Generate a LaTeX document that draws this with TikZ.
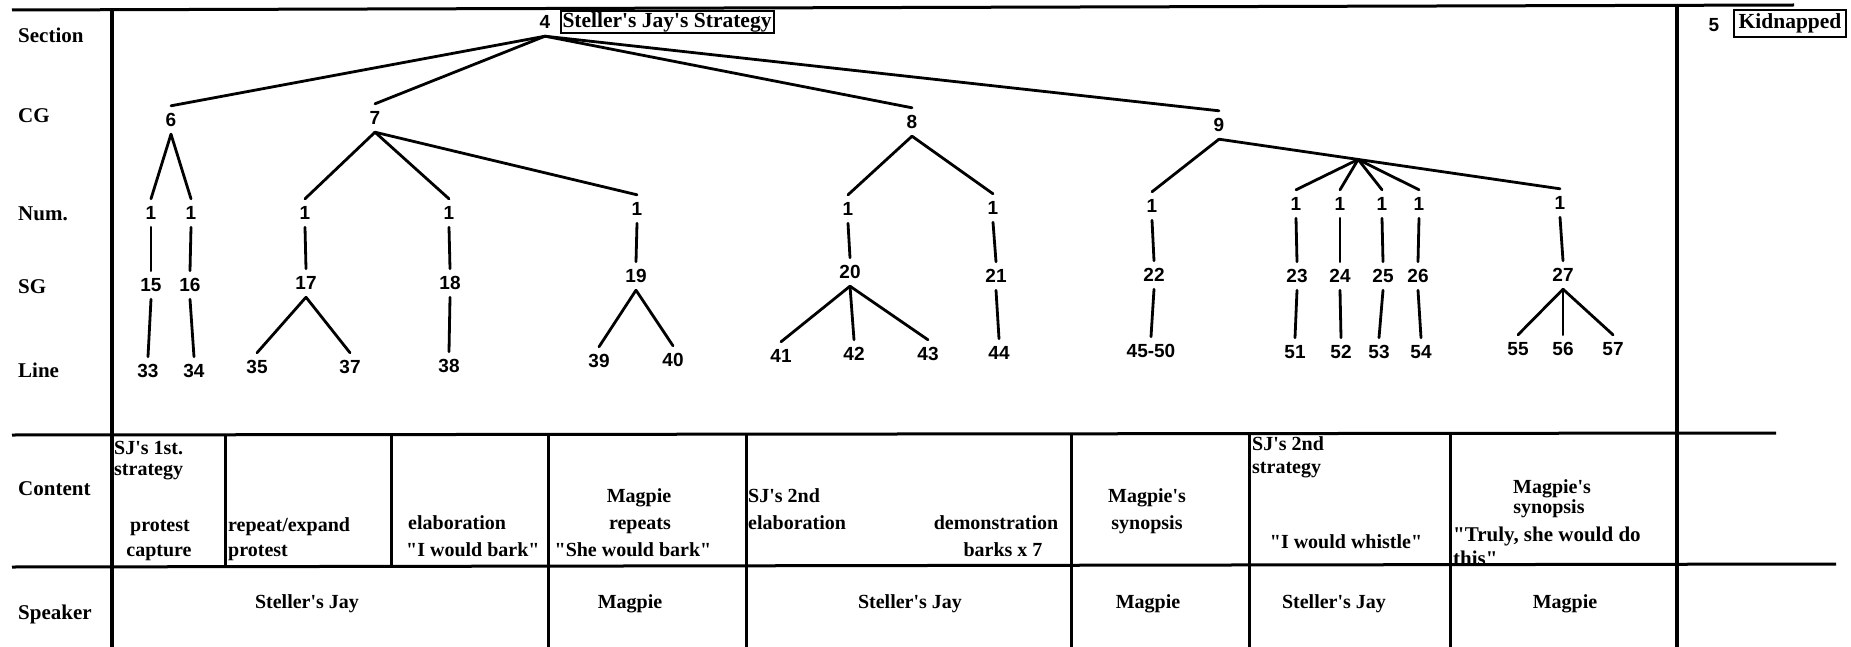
\documentclass[tikz,border=0pt]{standalone}
\usepackage{fontspec}
\setmainfont{Liberation Serif}
\newfontfamily\txtfont{Liberation Serif}
\newfontfamily\numfont{Liberation Sans}
\usetikzlibrary{calc}
\tikzset{
  rowlab/.style={anchor=west, inner sep=0pt, text height=12pt, text depth=0pt,
                 font=\txtfont\bfseries\fontsize{21}{23}\selectfont},
  num/.style={inner xsep=1pt, inner ysep=0pt, text height=13.6pt, text depth=0pt,
              minimum height=28pt, font=\numfont\bfseries\fontsize{19}{20}\selectfont},
  ctext/.style={inner sep=0pt, text height=10pt, text depth=0pt,
                font=\txtfont\bfseries\fontsize{20}{22}\selectfont},
  tline/.style={line width=2.8pt, line cap=round},
  gridline/.style={line width=3pt},
  titlebox/.style={draw, line width=2pt, inner xsep=2pt, inner ysep=1pt,
                   font=\txtfont\bfseries\fontsize{21.5}{23}\selectfont},
}
\begin{document}
\begin{tikzpicture}[x=1pt, y=-1pt]
\useasboundingbox (0,0) rectangle (1851,647);
\fill[white] (0,0) rectangle (1851,647);

% row labels
\node[rowlab] (labSec) at (18,37) {Section};
\node[rowlab] (labCG) at (18,117) {CG};
\node[rowlab] (labNum) at (18,214) {Num.};
\node[rowlab] (labSG) at (18,287) {SG};
\node[rowlab] (labLine) at (18,371) {Line};
\node[rowlab] (labCont) at (18,489) {Content};
\node[rowlab] (labSpk) at (18,613) {Speaker};

% table rules
\draw[gridline] (12,10) -- (1794,5);
\draw[gridline] (12,435) -- (1776,433);
\draw[gridline] (12,567) -- (1836,564);
\draw[gridline, line width=3.6pt] (112,8) -- (112,647);
\draw[gridline, line width=3.6pt] (1677,5) -- (1677,647);
\foreach \x in {225,391} \draw[gridline] (\x,435) -- (\x,567);
\foreach \x in {548,746,1071,1249,1450} \draw[gridline] (\x,434) -- (\x,647);

% section row
\node[num] (n4) at (545,22) {4};
\node[titlebox, text depth=4.6pt] (t4) at (667,22) {\underline{Steller's Jay's Strategy}};
\node[num] (n5) at (1714,25) {5};
\node[titlebox, inner xsep=4.5pt, inner ysep=4pt] (t5) at (1790,23.5) {Kidnapped};

% CG
\node[num] (n6) at (171,120) {6};
\node[num] (n7) at (375,118) {7};
\node[num] (n8) at (912,122) {8};
\node[num] (n9) at (1219,125) {9};

% Num
\node[num] (m15) at (151,213) {1};
\node[num] (m16) at (191,213) {1};
\node[num] (m17) at (305,213) {1};
\node[num] (m18) at (449,213) {1};
\node[num] (m19) at (637,209) {1};
\node[num] (m20) at (848,209) {1};
\node[num] (m21) at (993,208) {1};
\node[num] (m22) at (1152,206) {1};
\node[num] (m23) at (1296,204) {1};
\node[num] (m24) at (1340,204) {1};
\node[num] (m25) at (1382,204) {1};
\node[num] (m26) at (1419,204) {1};
\node[num] (m27) at (1560,203) {1};

% SG
\node[num] (s15) at (151,285) {15};
\node[num] (s16) at (190,285) {16};
\node[num] (s17) at (306,283) {17};
\node[num] (s18) at (450,283) {18};
\node[num] (s19) at (636,276) {19};
\node[num] (s20) at (850,272) {20};
\node[num] (s21) at (996,276) {21};
\node[num] (s22) at (1154,275) {22};
\node[num] (s23) at (1297,276) {23};
\node[num] (s24) at (1340,276) {24};
\node[num] (s25) at (1383,276) {25};
\node[num] (s26) at (1418,276) {26};
\node[num] (s27) at (1563,275) {27};

% Line
\node[num] (l33) at (148,371) {33};
\node[num] (l34) at (194,371) {34};
\node[num] (l35) at (257,367) {35};
\node[num] (l37) at (350,367) {37};
\node[num] (l38) at (449,366) {38};
\node[num] (l39) at (599,361) {39};
\node[num] (l40) at (673,360) {40};
\node[num] (l41) at (781,356) {41};
\node[num] (l42) at (854,354) {42};
\node[num] (l43) at (928,354) {43};
\node[num] (l44) at (999,353) {44};
\node[num] (l45) at (1151,351) {45-50};
\node[num] (l51) at (1295,352) {51};
\node[num] (l52) at (1341,352) {52};
\node[num] (l53) at (1379,352) {53};
\node[num] (l54) at (1421,352) {54};
\node[num] (l55) at (1518,349) {55};
\node[num] (l56) at (1563,349) {56};
\node[num] (l57) at (1613,349) {57};

% tree connectors
\foreach \c in {n6,n7,n8,n9} \draw[tline] (n4.south) -- (\c.north);
\foreach \c in {m15,m16} \draw[tline] (n6.south) -- (\c.north);
\foreach \c in {m17,m18,m19} \draw[tline] (n7.south) -- (\c.north);
\foreach \c in {m20,m21} \draw[tline] (n8.south) -- (\c.north);
\coordinate (br) at ($(n9.south)!0.408!(m27.north)$);
\draw[tline] (n9.south) -- (m22.north);
\draw[tline] (n9.south) -- (br) -- (m27.north);
\foreach \c in {m23,m24,m25,m26} \draw[tline] (br) -- (\c.north);
\foreach \k in {15,16,17,18,19,20,21,22,23,24,25,26,27}
  \draw[tline] (m\k.south) -- (s\k.north);
\draw[tline] (s15.south) -- (l33.north);
\draw[tline] (s16.south) -- (l34.north);
\foreach \c in {l35,l37} \draw[tline] (s17.south) -- (\c.north);
\draw[tline] (s18.south) -- (l38.north);
\foreach \c in {l39,l40} \draw[tline] (s19.south) -- (\c.north);
\foreach \c in {l41,l42,l43} \draw[tline] (s20.south) -- (\c.north);
\draw[tline] (s21.south) -- (l44.north);
\draw[tline] (s22.south) -- (l45.north);
\draw[tline] (s23.south) -- (l51.north);
\draw[tline] (s24.south) -- (l52.north);
\draw[tline] (s25.south) -- (l53.north);
\draw[tline] (s26.south) -- (l54.north);
\foreach \c in {l55,l56,l57} \draw[tline] (s27.south) -- (\c.north);

% content row
\node[ctext, anchor=west] (c1a) at (114,449) {SJ's 1st.};
\node[ctext, anchor=west] (c1b) at (114,470) {strategy};
\node[ctext] (c1c) at (160,526) {protest};
\node[ctext] (c1d) at (159,551) {capture};
\node[ctext, anchor=west] (c2a) at (228,526) {repeat/expand};
\node[ctext, anchor=west] (c2b) at (228,551) {protest};
\node[ctext, anchor=west] (c3a) at (408,524) {elaboration};
\node[ctext, anchor=west] (c3b) at (406,551) {"I would bark"};
\node[ctext] (c4a) at (639,497) {Magpie};
\node[ctext] (c4b) at (640,524) {repeats};
\node[ctext] (c4c) at (633,551) {"She would bark"};
\node[ctext, anchor=west] (c5a) at (748,497) {SJ's 2nd};
\node[ctext, anchor=west] (c5b) at (748,524) {elaboration};
\node[ctext] (c5c) at (996,524) {demonstration};
\node[ctext] (c5d) at (1003,551) {barks x 7};
\node[ctext] (c6a) at (1147,497) {Magpie's};
\node[ctext] (c6b) at (1147,524) {synopsis};
\node[ctext, anchor=west] (c7a) at (1252,445) {SJ's 2nd};
\node[ctext, anchor=west] (c7b) at (1252,468) {strategy};
\node[ctext] (c7c) at (1346,543) {"I would whistle"};
\node[ctext] (c8a) at (1552,488) {Magpie's};
\node[ctext] (c8b) at (1549,508) {synopsis};
\node[ctext, anchor=west, font=\txtfont\bfseries\fontsize{21}{22}\selectfont] (c8c) at (1453,536) {"Truly, she would do};
\begin{scope}
  \clip (1450,440) rectangle (1677,563);
  \node[ctext, anchor=west, font=\txtfont\bfseries\fontsize{21}{22}\selectfont] (c8d) at (1453,560) {this"};
\end{scope}

% speaker row
\node[ctext] (p1) at (307,603) {Steller's Jay};
\node[ctext] (p2) at (630,603) {Magpie};
\node[ctext] (p3) at (910,603) {Steller's Jay};
\node[ctext] (p4) at (1148,603) {Magpie};
\node[ctext] (p5) at (1334,603) {Steller's Jay};
\node[ctext] (p6) at (1565,603) {Magpie};
\end{tikzpicture}
\end{document}
